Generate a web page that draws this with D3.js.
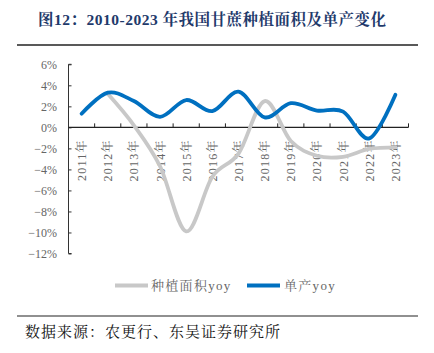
<!DOCTYPE html>
<html><head><meta charset="utf-8">
<script src="https://cdn.jsdelivr.net/npm/d3@7"></script>
<style>body{margin:0;background:#fff;} svg{display:block;}</style>
</head><body>
<svg id="c" width="434" height="353"></svg>
<script>
const years = ["2011年","2012年","2013年","2014年","2015年","2016年","2017年","2018年","2019年","2020年","2021年","2022年","2023年"];
const areaYoy = [null, 3.2, 0.2, -3.7, -9.9, -4.7, -2.5, 2.5, -1.3, -2.7, -2.8, -2.05, -1.9];
const yieldYoy = [1.3, 3.3, 2.5, 1.0, 2.6, 1.55, 3.4, 0.95, 2.3, 1.6, 1.5, -1.05, 3.1];
const yTicks = [6, 4, 2, 0, -2, -4, -6, -8, -10, -12];
const title = "图12：2010-2023 年我国甘蔗种植面积及单产变化";
const source = "数据来源：农更行、东吴证券研究所";
const seriesNames = ["种植面积yoy", "单产yoy"];
const colors = ["#C8C8C8", "#0070C0"];

const svg = d3.select("#c");
const serif = "'Liberation Serif','Noto Serif CJK SC','Noto Sans CJK SC',serif";

// title
svg.append("text").attr("x", 38).attr("y", 25).attr("font-family", serif)
  .attr("font-size", 15.5).attr("font-weight", "bold").attr("letter-spacing", 0.5)
  .attr("fill", "#1F3A6B").text(title);
svg.append("line").attr("x1", 17).attr("x2", 418).attr("y1", 45).attr("y2", 45)
  .attr("stroke", "#222").attr("stroke-width", 1.5);

const x = d3.scaleBand().domain(years).range([68.5, 408.5]);
const y = d3.scaleLinear().domain([-12, 6]).range([253.5, 64.3]);

// y axis
const yAxis = svg.append("g").attr("transform", "translate(68.5,0)")
  .call(d3.axisRight(y).tickValues(yTicks).tickSize(3).tickFormat(""));
yAxis.select(".domain").attr("stroke", "#333").attr("d", `M3,${y(6)}H0V${y(-12)}H3`);
yAxis.selectAll(".tick line").attr("stroke", "#333");
svg.append("g").selectAll("text").data(yTicks).join("text")
  .attr("x", 57).attr("y", d => y(d) + 4.5).attr("text-anchor", "end")
  .attr("font-family", serif).attr("font-size", 12).attr("fill", "#666")
  .text(d => (d < 0 ? "−" + Math.abs(d) : d) + "%");

// x axis
const xg = svg.append("g").attr("transform", `translate(0,${y(0)})`);
xg.append("line").attr("x1", 68.5).attr("x2", 408.5).attr("stroke", "#222").attr("stroke-width", 1.2);
xg.selectAll("line.t").data(years).join("line").attr("class", "t")
  .attr("x1", d => x(d) + x.bandwidth()).attr("x2", d => x(d) + x.bandwidth())
  .attr("y1", 0).attr("y2", -4).attr("stroke", "#222");
xg.selectAll("text").data(years).join("text")
  .attr("transform", d => `translate(${x(d) + x.bandwidth() / 2 + 4.5},${12}) rotate(-90)`)
  .attr("text-anchor", "end").attr("font-family", serif).attr("font-size", 12)
  .attr("letter-spacing", 1.2).attr("fill", "#666").text(d => d);

// lines
const line = d3.line().defined(d => d[1] != null)
  .x(d => x(d[0]) + x.bandwidth() / 2).y(d => y(d[1]))
  .curve(d3.curveCatmullRom.alpha(0));
[areaYoy, yieldYoy].forEach((vals, i) => {
  svg.append("path").datum(years.map((yr, j) => [yr, vals[j]]).filter(d => d[1] != null))
    .attr("d", line).attr("fill", "none").attr("stroke", colors[i])
    .attr("stroke-width", 3.8).attr("stroke-linecap", "round");
});

// legend
const leg = [[115, 151], [247, 284]];
seriesNames.forEach((n, i) => {
  svg.append("line").attr("x1", leg[i][0]).attr("x2", leg[i][0] + 33).attr("y1", 285.5).attr("y2", 285.5)
    .attr("stroke", colors[i]).attr("stroke-width", 3.8);
  svg.append("text").attr("x", leg[i][1]).attr("y", 290).attr("font-family", serif)
    .attr("font-size", 13).attr("letter-spacing", 1.3).attr("fill", "#666").text(n);
});

// footer
svg.append("line").attr("x1", 17).attr("x2", 418).attr("y1", 316).attr("y2", 316)
  .attr("stroke", "#222").attr("stroke-width", 1.2);
svg.append("text").attr("x", 25).attr("y", 337).attr("font-family", serif)
  .attr("font-size", 15).attr("letter-spacing", 1).attr("fill", "#111").text(source);
</script>
</body></html>
